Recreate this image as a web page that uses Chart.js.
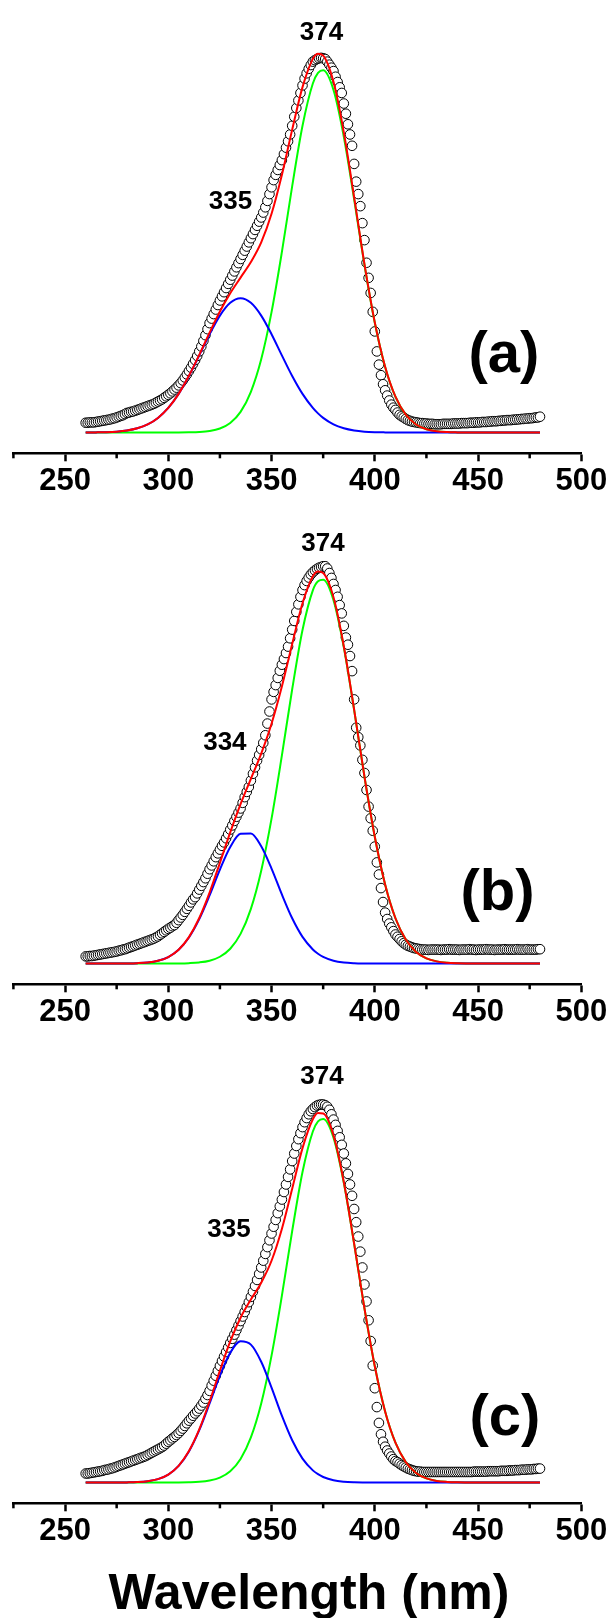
<!DOCTYPE html>
<html><head><meta charset="utf-8">
<script src="https://cdn.jsdelivr.net/npm/chart.js@4.4.1/dist/chart.umd.min.js"></script>
<style>
html,body{margin:0;padding:0;background:#fff;}
body{width:613px;height:1618px;position:relative;overflow:hidden;}
.panel{position:absolute;left:0;width:613px;}
canvas{display:block;}
</style></head><body>
<div class="panel" style="top:0px;height:503px"><canvas id="ca" width="613" height="503"></canvas></div>
<div class="panel" style="top:531px;height:503px"><canvas id="cb" width="613" height="503"></canvas></div>
<div class="panel" style="top:1050px;height:568px"><canvas id="cc" width="613" height="568"></canvas></div>
<script>
// ---------- data ----------
const tickLabels = [250, 300, 350, 400, 450, 500];
const minorTickValues = [225, 275, 325, 375, 425, 475];
const xTitle = 'Wavelength (nm)';
const fitWavelength = [260,265,270,275,280,285,290,295,300,305,310,315,320,325,330,335,340,345,350,355,360,365,370,372.5,375,380,385,390,395,400,405,410,415,420,425,430,435,440,445,450,455,460,465,470,475,480];
const dataStart = 260; // nm, 1 nm step

// panel (a)
const fitA_total = [0.1,0.4,1.0,2.4,5.4,11.2,21.5,38.8,65.3,102.5,150.3,206,264.8,320.7,369.2,410.7,451.9,504,579.7,682.6,802.8,915.4,990.3,1003.8,998.8,929.5,795.2,623.4,446.4,292,174.4,95,47.3,21.4,8.9,3.4,1.2,0.4,0,0,0,0,0,0,0,0];
const fitA_peak335 = [0.1,0.4,1.0,2.4,5.4,11.2,21.5,38.8,65.3,102.4,149.8,204.6,260.7,310,343.9,356,343.9,310,260.7,204.6,149.8,102.4,65.3,50.8,38.8,21.5,11.2,5.4,2.4,1.0,0.4,0.1,0,0,0,0,0,0,0,0,0,0,0,0,0,0];
const fitA_peak374 = [0,0,0,0,0,0,0,0,0,0.1,0.5,1.4,4.1,10.7,25.3,54.7,108,194,319,478,653,813,925,953,960,908,784,618,444,291,174,94.9,47.3,21.4,8.9,3.4,1.2,0.4,0,0,0,0,0,0,0,0];
const expA = [
26,26,27,27,27,28,29,30,31,32, 33,34,35,37,38,40,42,44,46,49,
52,53,55,56,58,60,62,64,66,68, 70,72,74,76,79,82,85,88,92,96,
100,104,109,114,119,125,131,138,146,154, 163,172,182,192,203,215,228,243,258,274,
290,302,314,326,338,350,361,372,383,394, 405,416,427,438,449,460,471,482,493,504,
515,526,537,548,559,570,583,597,614,632, 650,669,683,696,709,722,738,755,772,790,
813,837,860,880,900,920,938,952,964,974, 983,987,990,992,993,992,990,983,975,967,
958,943,929,915,900,872,845,817,790,760, 712,665,632,600,555,510,450,410,370,320,
268,215,180,152,128,112,98,85,74,66, 60,53,47,43,40,36,33,31,29,28,
27,26,25,25,24,24,23,23,23,22, 22,22,22,23,23,23,23,23,24,24,
24,24,25,25,25,25,26,26,26,27, 27,27,28,28,28,29,29,30,30,30,
31,31,32,32,33,33,33,34,34,35, 35,36,36,37,37,38,38,39,40,40, 42];

// panel (b)
const fitB_total = [0,0,0,0.1,0.3,1.0,2.8,7.4,17.3,36.7,70.1,120.7,188.1,267,347.8,422.6,489.7,556.6,635.6,734.2,847,954.7,1026.4,1039,1034.8,970.6,840.9,673,495.3,336.1,209.5,120,63.5,30.9,13.8,5.7,2.1,0.7,0.2,0,0,0,0,0,0,0];
const fitB_peak334 = [0,0,0,0.1,0.3,1.0,2.8,7.4,17.2,36.4,69,117.7,180.5,249,308.6,344,344.7,310.6,251.6,183.2,120,70.7,37.4,26.1,17.8,7.6,2.9,1.0,0.3,0.1,0,0,0,0,0,0,0,0,0,0,0,0,0,0,0,0];
const fitB_peak374 = [0,0,0,0,0,0,0,0,0.1,0.3,1.1,3.0,7.6,18,39.2,78.6,145,246,384,551,727,884,989,1013,1017,963,838,672,495,336,209.5,120,63.5,30.9,13.8,5.7,2.1,0.7,0.2,0,0,0,0,0,0,0];
const expB = [
19,19,20,20,21,22,23,24,25,26, 27,28,29,30,31,32,34,35,37,38,
40,42,44,46,48,50,52,54,56,58, 60,62,64,66,69,72,76,80,84,88,
92,95,99,102,108,115,122,129,137,145, 153,162,170,176,186,196,206,216,226,238,
250,260,271,282,292,302,312,321,332,343, 355,366,378,389,400,411,426,441,455,468,
485,503,520,538,553,568,585,605,636,668, 700,720,738,757,776,792,807,823,840,862,
885,908,932,952,972,990,1003,1014,1023,1031, 1037,1042,1046,1049,1051,1053,1053,1047,1035,1022,
1006,990,972,950,928,895,864,845,815,775, 700,625,600,578,540,505,460,416,385,352,
310,268,236,200,163,135,118,106,96,86, 77,71,65,59,54,50,47,45,43,41,
40,39,38,37,37,37,36,37,37,37, 37,37,36,37,37,37,38,37,37,37,
37,36,37,37,37,37,38,37,37,36, 37,37,37,37,38,37,37,37,36,37,
37,37,37,38,37,37,37,37,37,38, 37,37,37,37,38,37,37,37,37,38, 38];

// panel (c)
const fitC_total = [0,0,0,0.1,0.4,1.2,3.5,9.1,21.2,44.3,83.3,140.8,214.8,296.6,373.9,436.9,485.1,529.6,587.8,671.9,778.6,886.4,962.7,979.1,978.3,920.2,796.6,633.1,461.4,308.1,188.5,105.7,54.2,25.5,11,4.3,1.6,0.5,0.2,0,0,0,0,0,0,0];
const fitC_peak335 = [0,0,0,0.1,0.4,1.2,3.5,9.1,21.1,44.1,82.6,138.9,209.5,283.5,344,374.4,365.6,320.2,251.5,177.2,112,63.5,32.3,22.1,14.7,6.0,2.2,0.7,0.2,0,0,0,0,0,0,0,0,0,0,0,0,0,0,0,0,0];
const fitC_peak374 = [0,0,0,0,0,0,0,0,0.1,0.2,0.7,1.9,5.3,13.1,29.9,62.5,119.5,209.4,336.3,494.7,666.6,822.9,930.4,957,963.6,914.2,794.4,632.4,461.2,308.1,188.5,105.7,54.2,25.5,11,4.3,1.6,0.5,0.2,0,0,0,0,0,0,0];
const expC = [
24,24,25,26,27,28,29,30,31,33, 34,35,37,38,40,42,44,46,48,50,
52,54,56,58,60,62,64,66,68,70, 73,76,79,82,85,88,91,94,98,103,
108,112,117,121,126,131,137,143,150,157, 164,170,177,183,189,196,204,212,222,232,
243,257,270,283,296,309,322,334,346,358, 370,381,392,404,416,428,440,452,465,478,
492,506,521,537,553,570,588,606,624,642, 660,678,696,714,732,750,770,790,810,830,
852,872,892,910,926,942,955,966,976,984, 990,995,999,1001,1002,1002,1000,996,988,976,
962,948,932,915,895,872,846,818,790,760, 725,690,652,612,570,525,480,430,375,310,
250,200,158,128,108,95,85,77,69,62, 57,54,50,46,43,40,37,35,33,31,
30,29,29,28,28,28,28,28,28,28, 28,28,28,28,28,28,28,28,28,28,
28,28,28,28,28,28,28,28,29,29, 29,29,29,29,29,30,30,30,30,30,
30,31,31,31,31,32,32,32,33,33, 33,34,34,34,35,35,35,36,36,37, 37];

const labelsA = [{text:'374', x:374.2, y:1040, size:26}, {text:'335', x:330.1, y:592, size:26}, {text:'(a)', x:462.5, y:160, size:58}];
const labelsB = [{text:'374', x:374.9, y:1094, size:26}, {text:'334', x:327.4, y:566, size:26}, {text:'(b)', x:459.4, y:143, size:58}];
const labelsC = [{text:'374', x:374.4, y:1055, size:26}, {text:'335', x:329.4, y:650, size:26}, {text:'(c)', x:463, y:125, size:58}];

// ---------- drawing ----------
const FONT = '"Liberation Sans", Arial, sans-serif';
function points(xs, ys) { return ys.map((y, i) => ({x: xs[i], y})); }

const annotPlugin = {
  id: 'annot',
  afterDraw(chart, args, opts) {
    const {ctx, chartArea} = chart;
    const xs = chart.scales.x, ys = chart.scales.y;
    ctx.save();
    ctx.strokeStyle = '#000';
    ctx.lineWidth = 2.5;
    const yb = chartArea.bottom;
    minorTickValues.forEach(v => {
      const px = xs.getPixelForValue(v);
      ctx.beginPath(); ctx.moveTo(px, yb); ctx.lineTo(px, yb + 5); ctx.stroke();
    });
    ctx.fillStyle = '#000';
    ctx.textAlign = 'center';
    ctx.textBaseline = 'alphabetic';
    (opts.labels || []).forEach(l => {
      ctx.font = 'bold ' + l.size + 'px ' + FONT;
      ctx.fillText(l.text, xs.getPixelForValue(l.x), ys.getPixelForValue(l.y));
    });
    if (opts.title) {
      ctx.font = 'bold 50px ' + FONT;
      ctx.textBaseline = 'alphabetic';
      ctx.fillText(opts.title, 309, chart.height - 9);
    }
    ctx.restore();
  }
};

function panel(id, exp, total, peakLow, peakHigh, labels, axisHeight, withTitle) {
  const dataWavelength = exp.map((_, i) => dataStart + i);
  const lineDs = (label, ys, color, order) => ({
    label, data: points(fitWavelength, ys), showLine: true, borderColor: color,
    borderWidth: 2, pointRadius: 0, cubicInterpolationMode: 'monotone', order
  });
  new Chart(document.getElementById(id), {
    type: 'scatter',
    data: {datasets: [
      lineDs('Cumulative fit', total, '#ff0000', 0),
      lineDs('Peak 1', peakLow, '#0000ff', 1),
      lineDs('Peak 2', peakHigh, '#00ff00', 2),
      {label: 'Experimental', data: points(dataWavelength, exp), showLine: false,
       pointRadius: 4.8, pointBorderWidth: 1, pointBorderColor: '#000', pointBackgroundColor: '#fff', order: 3}
    ]},
    options: {
      responsive: false, animation: false, devicePixelRatio: 1,
      layout: {padding: {left: 13.4, right: 31.7, top: 0, bottom: 0}},
      plugins: {legend: {display: false}, tooltip: {enabled: false}, annot: {labels, title: withTitle ? xTitle : null}},
      scales: {
        x: {
          type: 'linear', min: 225, max: 500,
          afterBuildTicks: s => { s.ticks = tickLabels.map(v => ({value: v})); },
          afterFit: s => { s.height = axisHeight; },
          ticks: {color: '#000', font: {family: FONT, size: 31, weight: 'bold'}, padding: 2, maxRotation: 0, autoSkip: false},
          grid: {drawOnChartArea: false, drawTicks: true, tickLength: 8, tickWidth: 2.5, tickColor: '#000'},
          border: {display: true, color: '#000', width: 2.5},
          title: {display: false}
        },
        y: {type: 'linear', display: false, min: -55, max: 1131}
      }
    },
    plugins: [annotPlugin]
  });
}

panel('ca', expA, fitA_total, fitA_peak335, fitA_peak374, labelsA, 49.7, false);
panel('cb', expB, fitB_total, fitB_peak334, fitB_peak374, labelsB, 49.7, false);
panel('cc', expC, fitC_total, fitC_peak335, fitC_peak374, labelsC, 114.7, true);
</script>
</body></html>
